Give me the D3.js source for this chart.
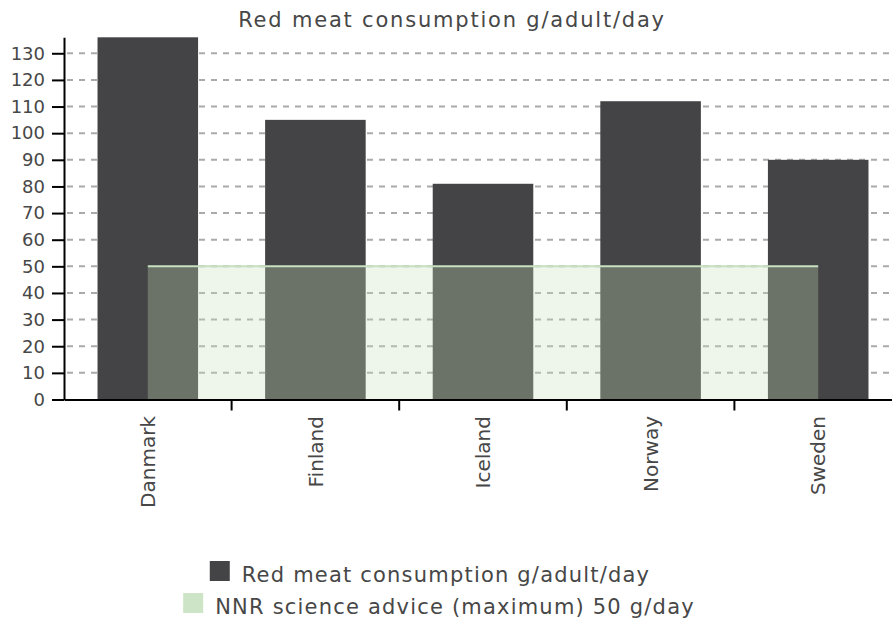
<!DOCTYPE html>
<html>
<head>
<meta charset="utf-8">
<script src="https://cdnjs.cloudflare.com/ajax/libs/d3/7.8.5/d3.min.js"></script>
<style>
  body { margin: 0; background: #fff; }
  svg { display: block; font-family: "DejaVu Sans", sans-serif; }
</style>
</head>
<body>
<div id="chart"></div>
<script>
var countries = ["Danmark", "Finland", "Iceland", "Norway", "Sweden"];
var meatValues = [136, 105, 81, 112, 90];
var adviceValues = [50, 50, 50, 50, 50];
var yTicks = [0, 10, 20, 30, 40, 50, 60, 70, 80, 90, 100, 110, 120, 130];
var titleText = "Red meat consumption g/adult/day";
var legendLabels = ["Red meat consumption g/adult/day", "NNR science advice (maximum) 50 g/day"];

var W = 892, H = 624;
var textColor = "#474747";

var svg = d3.select("#chart").append("svg")
    .attr("width", W)
    .attr("height", H);

var x = d3.scaleBand()
    .domain(countries)
    .range([64, 902])
    .padding(0);

var y = d3.scaleLinear()
    .domain([0, 136])
    .range([399.5, 37.3]);

var barW = x.bandwidth() * 0.6;

// gridlines
svg.append("g")
  .selectAll("line")
  .data(yTicks.slice(1))
  .enter()
  .append("line")
    .attr("x1", 67)
    .attr("x2", W)
    .attr("y1", function(d) { return y(d); })
    .attr("y2", function(d) { return y(d); })
    .attr("stroke", "#aaaaaa")
    .attr("stroke-width", 2)
    .attr("stroke-dasharray", "6,6");

// bars
svg.append("g")
  .selectAll("rect")
  .data(countries)
  .enter()
  .append("rect")
    .attr("x", function(d) { return x(d) + (x.bandwidth() - barW) / 2; })
    .attr("y", function(d, i) { return y(meatValues[i]); })
    .attr("width", barW)
    .attr("height", function(d, i) { return y(0) - y(meatValues[i]); })
    .attr("fill", "#444446");

// advice area
var cx = function(d) { return x(d) + x.bandwidth() / 2; };
var area = d3.area()
    .x(function(d, i) { return cx(countries[i]); })
    .y0(y(0))
    .y1(function(d) { return y(d); });
var line = d3.line()
    .x(function(d, i) { return cx(countries[i]); })
    .y(function(d) { return y(d); });

svg.append("path")
    .datum(adviceValues)
    .attr("d", area)
    .attr("fill", "rgb(198,222,185)")
    .attr("fill-opacity", 0.3);
svg.append("path")
    .datum(adviceValues)
    .attr("d", line)
    .attr("fill", "none")
    .attr("stroke", "#c6e1bf")
    .attr("stroke-width", 2);

// y axis
var yAxis = svg.append("g")
    .attr("transform", "translate(64,0)")
    .call(d3.axisLeft(y).tickValues(yTicks).tickSize(12).tickPadding(7).tickSizeOuter(0));
yAxis.select(".domain").attr("stroke", "#000").attr("stroke-width", 2);
yAxis.selectAll(".tick line").attr("stroke", "#000").attr("stroke-width", 2);
yAxis.selectAll(".tick text")
    .attr("fill", textColor)
    .style("font-size", "18px")
    .style("font-family", "DejaVu Sans");

// x axis
var xAxis = svg.append("g")
    .attr("transform", "translate(0," + y(0) + ")")
    .call(d3.axisBottom(x).tickSize(0).tickSizeOuter(0).tickFormat(""));
xAxis.select(".domain").attr("stroke", "#000").attr("stroke-width", 2);
xAxis.selectAll(".tick").remove();

svg.append("g")
  .selectAll("line")
  .data(countries.slice(1))
  .enter()
  .append("line")
    .attr("x1", function(d) { return x(d); })
    .attr("x2", function(d) { return x(d); })
    .attr("y1", y(0))
    .attr("y2", y(0) + 11)
    .attr("stroke", "#000")
    .attr("stroke-width", 2);

svg.append("g")
  .selectAll("text")
  .data(countries)
  .enter()
  .append("text")
    .attr("transform", function(d) { return "translate(" + cx(d) + ",416)rotate(-90)"; })
    .attr("dy", "0.36em")
    .attr("text-anchor", "end")
    .attr("fill", textColor)
    .style("font-size", "20px")
    .text(function(d) { return d; });

// title
svg.append("text")
    .attr("x", 452)
    .attr("y", 27)
    .attr("text-anchor", "middle")
    .attr("fill", textColor)
    .style("font-size", "21px")
    .style("letter-spacing", "1.8px")
    .text(titleText);

// legend
var legendColors = ["#444446", "#cde5c6"];
var legendY = [571, 603];
var legendMid = [430, 439];
legendLabels.forEach(function(lab, i) {
  var g = svg.append("g");
  var t = g.append("text")
      .attr("x", 32)
      .attr("y", legendY[i] + 11)
      .attr("fill", textColor)
      .style("font-size", "21px")
      .style("letter-spacing", "1.2px")
      .text(lab);
  g.append("rect")
      .attr("x", 0)
      .attr("y", legendY[i] - 10)
      .attr("width", 20)
      .attr("height", 20)
      .attr("fill", legendColors[i]);
  var w = 32 + t.node().getComputedTextLength();
  g.attr("transform", "translate(" + (legendMid[i] - w / 2) + ",0)");
});
</script>
</body>
</html>
